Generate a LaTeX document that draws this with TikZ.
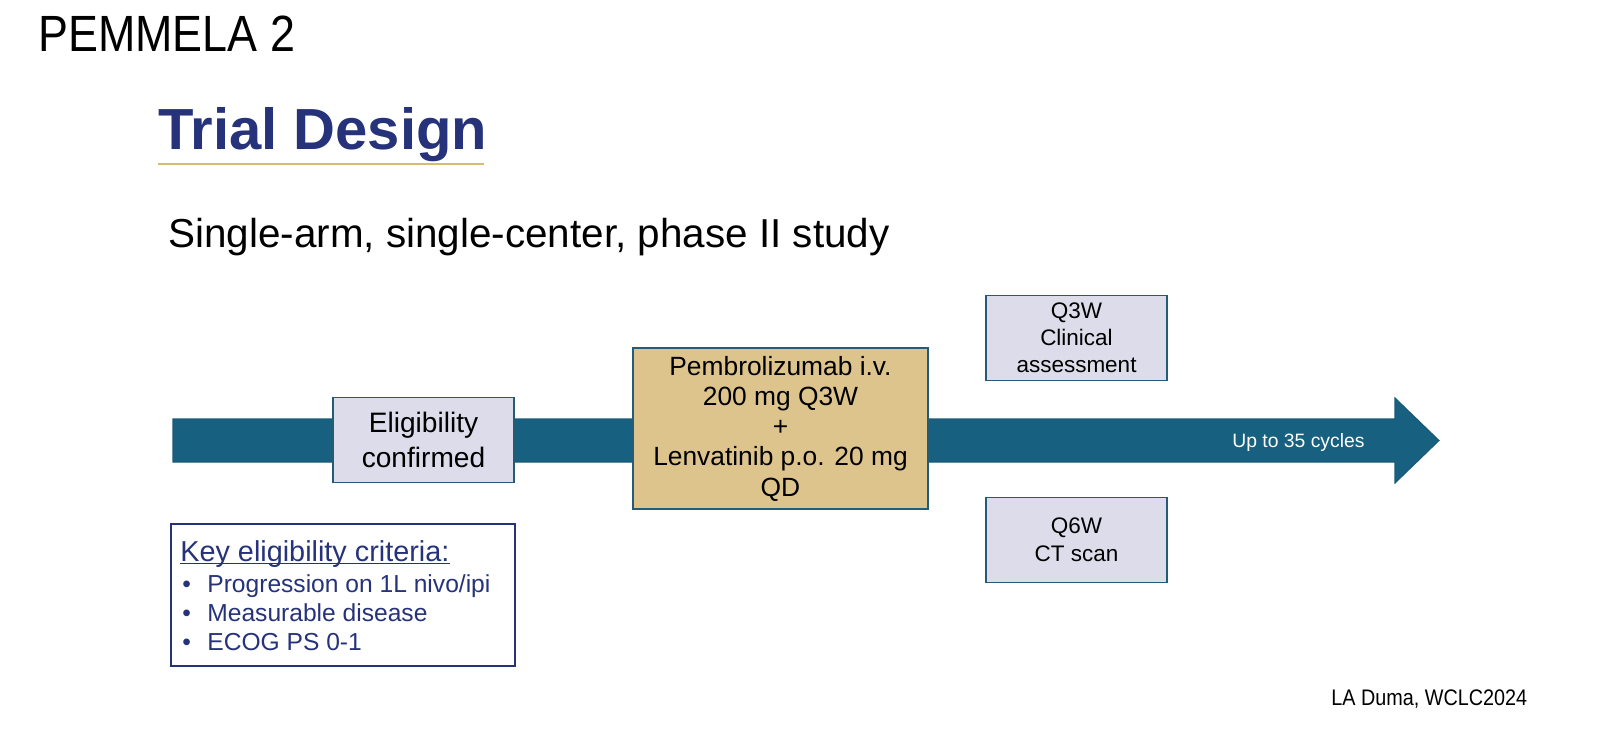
\documentclass[tikz,border=0pt]{standalone}
\usepackage{fontspec}
\setmainfont{Liberation Sans}
\newfontfamily\narrowfont[FakeStretch=0.88]{Liberation Sans}
\definecolor{shaftblue}{HTML}{17607F}
\definecolor{shaftedge}{HTML}{1B5A76}
\definecolor{boxedge}{HTML}{245C78}
\definecolor{lilac}{HTML}{DCDCEA}
\definecolor{sand}{HTML}{DCC48C}
\definecolor{navy}{HTML}{26337A}
\definecolor{gold}{HTML}{D6BC70}
\begin{document}
\begin{tikzpicture}[
	lilacbox/.style={draw=boxedge,line width=1.1pt,fill=lilac,minimum width=3.62cm,minimum height=1.7cm,align=center,inner sep=0pt},
	plain/.style={anchor=base west,inner sep=0pt},
	critline/.style={plain,navy,font=\fontsize{14}{17}\selectfont}]
	\useasboundingbox (0,0) rectangle (32.46,14.94);
	\fill[white] (0,0) rectangle (32.46,14.94);
	% headings
	\node[plain] (study) at (0.76,13.9) {\narrowfont\fontsize{29}{34}\selectfont PEMMELA 2};
	\node[plain,navy,font=\fontsize{33}{40}\selectfont\bfseries] (design) at (3.16,11.94) {Trial Design};
	\draw[gold,line width=1.1pt] (3.16,11.66) -- (9.68,11.66);
	\node[plain,font=\fontsize{23}{28}\selectfont] (kind) at (3.36,9.98) {Single-arm, single-center, phase II study};
	% time line
	\fill[shaftblue,draw=shaftedge,line width=0.6pt] (3.46,5.70) -- (27.9,5.70) -- (27.9,5.28) -- (28.78,6.13) -- (27.9,6.98) -- (27.9,6.56) -- (3.46,6.56) -- cycle;
	\node[plain,white,font=\fontsize{11}{13}\selectfont] (cycles) at (24.64,6.0) {Up to 35 cycles};
	\node[lilacbox,font=\fontsize{16}{20}\selectfont] (elig) at (8.47,6.14) {Eligibility\\confirmed};
	\node[draw=boxedge,line width=1.1pt,fill=sand,minimum width=5.9cm,minimum height=3.22cm,align=center,inner sep=0pt,font=\fontsize{15}{17.2}\selectfont] (drug) at (15.61,6.37) {Pembrolizumab i.v.\\200 mg Q3W\\+\\Lenvatinib p.o. 20 mg\\QD};
	\node[lilacbox,font=\fontsize{12.8}{15.5}\selectfont] (visit) at (21.53,8.18) {Q3W\\Clinical\\assessment};
	\node[lilacbox,font=\fontsize{12.8}{16}\selectfont] (scan) at (21.53,4.14) {Q6W\\CT scan};
	% criteria
	\draw[navy,line width=1.1pt,fill=white] (3.42,1.62) rectangle (10.3,4.46);
	\node[plain,navy,font=\fontsize{16.4}{20}\selectfont] (keyhead) at (3.60,3.72) {Key eligibility criteria:};
	\draw[navy,line width=0.8pt] ([yshift=-1.3pt]keyhead.base west) -- ([yshift=-1.3pt]keyhead.base east);
	\foreach \txt [count=\i] in {Progression on 1L nivo/ipi, Measurable disease, ECOG PS 0-1} {
		\node[critline] (dot\i) at (3.64,3.68-0.58*\i) {•};
		\node[critline] (crit\i) at (4.14,3.68-0.58*\i) {\txt};
	}
	\node[plain,font=\narrowfont\fontsize{12.8}{16}\selectfont] (source) at (26.62,0.84) {LA Duma, WCLC2024};
\end{tikzpicture}
\end{document}
